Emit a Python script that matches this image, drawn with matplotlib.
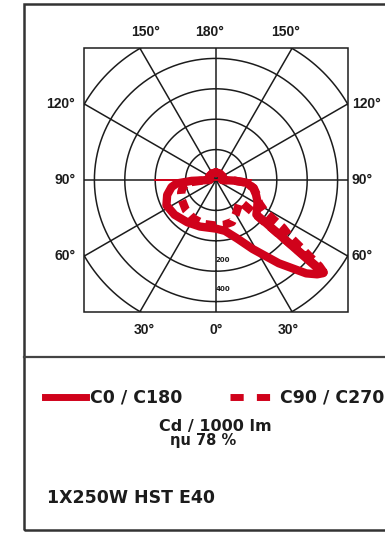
# -*- coding: utf-8 -*-
"""
Polar light distribution curve (luminaire datasheet style).
"""

import numpy as np
import matplotlib
matplotlib.use("Agg")
import matplotlib.pyplot as plt
from matplotlib.patches import Rectangle
from matplotlib.lines import Line2D

# C0 / C180 plane : gamma angle (deg, negative = C180 side) -> cd / 1000 lm
c0_angles = [-180, -150, -120, -95, -90, -88, -85, -81, -73, -63, -50, -34, -19, 0,
             10, 20, 28, 37, 44, 47, 49, 49.4, 55, 62, 70, 78, 85, 88, 90,
             95, 120, 150, 180]
c0_cd = [25, 25, 25, 25, 20, 80, 130, 148, 168, 183, 178, 168, 162, 160,
         170, 205, 257, 343, 427, 455, 467, 175, 165, 155, 140, 125, 100, 60, 20,
         25, 25, 25, 25]

# C90 / C270 plane
c90_angles = [-180, -150, -120, -95, -90, -85, -78, -70, -60, -45, -30, -15, 0,
              10, 21, 30, 37, 45, 48.5, 49.4, 50.2, 50.8, 51.2, 52.4, 54.5, 57,
              62, 70, 78, 85, 88, 90, 95, 120, 150, 180]
c90_cd = [25, 25, 25, 25, 30, 90, 112, 122, 130, 140, 147, 150, 150,
          150, 148, 130, 118, 108, 110, 467, 443, 397, 373, 310, 270, 193,
          160, 143, 127, 100, 60, 20, 25, 25, 25, 25]

# thin red cut-off line along the 90 deg axis (left, right)
horizon_angles = [-90, -90, 90, 90]
horizon_cd = [200, 0, 0, 115]

circles_cd = [100, 200, 300, 400, 500]
spoke_angles = [0, 30, 60, 90, 120, 150, 180, -30, -60, -90, -120, -150]
label_angles = [-150, 180, 150, -120, 120, -90, 90, -60, 60, -30, 0, 30]
scale_labels = ['200', '400']
scale_label_cd = [262, 360]

legend_labels = ['C0 / C180', 'C90 / C270']
unit_text = 'Cd / 1000 lm'
eff_text = 'ηu 78 %'
lamp_text = '1X250W HST E40'

RED = '#d0021b'
INK = '#1c1c1c'
W, H = 385, 535

def fx(px):
    return px / W

def fy(py):
    return 1 - py / H

fig = plt.figure(figsize=(W / 100, H / 100), dpi=100)
fig.patch.set_facecolor('white')

# outer frame + separator
fig.add_artist(Rectangle((fx(24), fy(530)), fx(420) - fx(24), fy(4) - fy(530),
                         transform=fig.transFigure, fill=False, ec='#333333', lw=1.8))
fig.add_artist(Line2D([fx(24), 1.0], [fy(357), fy(357)], transform=fig.transFigure,
                      color='#444444', lw=1.6))

# polar axes : centre at (216, 180) px, 500 cd = 152 px
R = 152
ax = fig.add_axes([fx(216 - R), fy(180 + R), 2 * R / W, 2 * R / H], projection='polar')
ax.set_theta_zero_location('S')
ax.set_theta_direction(1)
ax.set_ylim(0, 500)
ax.grid(False)
ax.set_xticks([])
ax.set_yticks([])
ax.spines['polar'].set_visible(False)
ax.patch.set_visible(False)

half = 0.5 * np.sin(np.radians(60))
box = Rectangle((0.5 - half, 0.5 - half), 2 * half, 2 * half, transform=ax.transAxes,
                fill=False, ec=INK, lw=1.1, clip_on=False)
ax.add_patch(box)
clip = Rectangle((0.5 - half, 0.5 - half), 2 * half, 2 * half, transform=ax.transAxes)

theta = np.linspace(0, 2 * np.pi, 400)
for r in circles_cd:
    ln, = ax.plot(theta, np.full_like(theta, r), color=INK, lw=1.1)
    ln.set_clip_path(clip)
for a in spoke_angles:
    ln, = ax.plot([np.radians(a)] * 2, [0, 500], color=INK, lw=1.1)
    ln.set_clip_path(clip)

# angle labels around the box
for a in label_angles:
    s, c = np.sin(np.radians(a)), np.cos(np.radians(a))
    t = half / max(abs(s), abs(c))
    x, y = 0.5 + t * s, 0.5 - t * c
    if abs(c) >= abs(s) - 1e-9:
        if c < 0:
            off = (-6 * np.sign(s), 9)
            va = 'bottom'
        else:
            off = (-4 * np.sign(s), -11)
            va = 'top'
        ha = 'center'
    else:
        off = (4, 0) if s > 0 else (-9, 0)
        ha, va = ('left' if s > 0 else 'right'), 'center'
    ax.annotate('%d°' % abs(a), (x, y), xycoords='axes fraction', textcoords='offset pixels',
                xytext=off, ha=ha, va=va, fontsize=10, fontweight='bold', color=INK,
                family='Liberation Sans', annotation_clip=False)

for lab, r in zip(scale_labels, scale_label_cd):
    ax.text(0, r, lab, ha='left', va='center', fontsize=5, fontweight='bold', color=INK)

# curves
ax.plot(np.radians(horizon_angles), horizon_cd, color=RED, lw=1.4)
ax.plot(np.radians(c0_angles), c0_cd, color=RED, lw=6, solid_joinstyle='round',
        solid_capstyle='round')
ax.plot(np.radians(c90_angles), c90_cd, color=RED, lw=6, linestyle=(0, (1.3, 0.8)))

# legend / notes
ly = fy(397)
fig.add_artist(Line2D([fx(45), fx(86)], [ly, ly], transform=fig.transFigure, color=RED, lw=5))
fig.text(fx(90), ly, legend_labels[0], ha='left', va='center', fontsize=12.5,
         fontweight='bold', color=INK)
fig.add_artist(Line2D([fx(230), fx(276)], [ly, ly], transform=fig.transFigure, color=RED,
                      lw=5, linestyle=(0, (1.9, 1.9))))
fig.text(fx(280), ly, legend_labels[1], ha='left', va='center', fontsize=12.5,
         fontweight='bold', color=INK)
fig.text(fx(215), fy(427), unit_text, ha='center', va='center', fontsize=11.5,
         fontweight='bold', color=INK)
fig.text(fx(203), fy(441), eff_text, ha='center', va='center', fontsize=10.5,
         fontweight='bold', color=INK)
fig.text(fx(47), fy(498), lamp_text, ha='left', va='center', fontsize=12.5,
         fontweight='bold', color=INK)

fig.savefig('out.png', dpi=100)
